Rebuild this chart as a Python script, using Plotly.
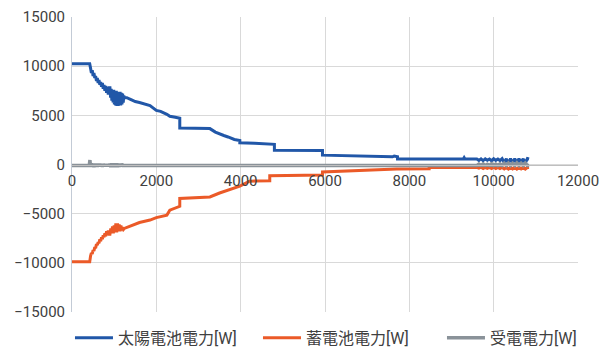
import plotly.graph_objects as go

# ---- data ----
solar_x = [0, 420,
           440, 460, 480, 500, 520, 540, 560, 580, 600, 620, 640, 660, 680, 700, 720, 740, 760, 780, 800, 820, 840, 860, 880,
           900, 915, 930, 945, 960, 975, 990, 1005, 1020, 1035, 1050, 1065, 1080, 1095, 1110, 1125, 1140, 1155, 1170,
           1185, 1200, 1215, 1230, 1245,
           1300, 1400, 1500, 1600, 1700, 1850, 2000, 2100, 2250, 2320, 2450, 2556, 2556, 3270, 3400, 3500, 3600,
           3700, 3850, 3980, 3980, 4330, 4800, 4800, 5940, 5940, 6500, 7000, 7300, 7600, 7640, 7700, 7720, 7720,
           9280, 9300, 9320,
           9600, 9650, 9700, 9750, 9800, 9850, 9900, 9950, 10000, 10050, 10100, 10150, 10200, 10250, 10300, 10350,
           10400, 10450, 10500, 10550, 10600, 10650, 10700, 10750, 10800, 10840]
solar_y = [10250, 10250,
           9800, 9300, 9600, 9000, 9300, 8800, 9000, 8500, 8800, 8300, 8600, 8100, 8400, 7900, 8300, 7700, 8100, 7500, 8000, 7300, 7900, 7100, 7800,
           7800, 6800, 7700, 6500, 7600, 6300, 7600, 6100, 7500, 6000, 7500, 5950, 7400, 5950, 7400, 6000, 7400, 6000,
           7300, 6100, 7200, 6300, 7000, 6800,
           6800, 6600, 6400, 6300, 6200, 6000, 5500, 5400, 5100, 4900, 4800, 4700, 3700, 3650, 3300, 3100, 2950,
           2800, 2550, 2450, 2200, 2150, 2050, 1450, 1420, 950, 880, 830, 780, 780, 850, 780, 780, 560,
           560, 700, 560,
           560, 420, 580, 400, 570, 430, 560, 390, 580, 420, 560, 400, 600, 200, 580, 150,
           600, 180, 590, 140, 600, 170, 580, 150, 600, 560]

battery_x = [0, 420,
             440, 460, 480, 500, 520, 540, 560, 580, 600, 620, 640, 660, 680, 700, 720, 740, 760, 780, 800, 820, 840, 860, 880,
             900, 920, 940, 960, 980, 1000, 1020, 1040, 1060, 1080, 1100, 1120, 1140, 1160, 1180, 1200, 1220, 1240,
             1300, 1400, 1500, 1600, 1700, 1850, 2000, 2100, 2250, 2320, 2556, 2556, 3270, 3500, 3700, 3850, 3980,
             4210, 4690, 4690, 5940, 5940, 6500, 7000, 7700, 8470, 8470,
             9600, 9650, 9700, 9750, 9800, 9850, 9900, 9950, 10000, 10050, 10100, 10150, 10200, 10250, 10300, 10350,
             10400, 10450, 10500, 10550, 10600, 10650, 10700, 10750, 10800, 10840]
battery_y = [-9900, -9900,
             -9300, -9000, -9100, -8700, -8800, -8400, -8500, -8100, -8200, -7900, -8000, -7600, -7800, -7400, -7600, -7200, -7400, -7000, -7300, -6800, -7200, -6700, -7100,
             -7100, -6500, -7000, -6300, -7000, -6200, -6900, -6000, -6900, -6000, -6800, -6100, -6800, -6200, -6700, -6400, -6600, -6500,
             -6400, -6200, -6100, -5900, -5800, -5650, -5400, -5300, -5150, -4650, -4250, -3450, -3300, -2900, -2600, -2400, -2200,
             -1700, -1650, -1150, -1080, -760, -650, -580, -460, -440, -300,
             -300, -380, -280, -400, -290, -390, -300, -410, -280, -400, -290, -420, -300, -450, -280, -460,
             -300, -440, -290, -470, -300, -450, -280, -460, -300, -300]

grid_x = [0, 410, 425, 440, 460, 480, 500, 520, 540, 560, 580, 600, 620, 640, 660, 680, 700, 720, 740, 760,
          780, 800, 820, 840, 860, 880, 900, 920, 940, 960, 980, 1000, 1020, 1040, 1060, 1080, 1100, 1120,
          1140, 1160, 1180, 1200, 1240,
          9600, 9650, 9700, 9750, 9800, 9850, 9900, 9950, 10000, 10050, 10100, 10150, 10200, 10250, 10300, 10350,
          10400, 10450, 10500, 10550, 10600, 10650, 10700, 10750, 10800, 10840]
grid_y = [-100, -100, 450, -250, 120, -220, 80, -250, 60, -200, 80, -220, 40, -200, 60, -200, 40, -220, 60, -200,
          40, -180, 50, -200, 40, -170, 80, -250, 100, -260, 110, -250, 80, -260, 100, -250, 80, -220,
          70, -200, 60, -100, -100,
          -100, 40, -100, 60, -100, 30, -100, 70, -100, 50, -100, 60, -100, 130, -100, 140,
          -100, 120, -100, 150, -100, 130, -100, 140, -100, -100]

names = ["太陽電池電力[W]", "蓄電池電力[W]", "受電電力[W]"]
colors = ["#2157A8", "#EB5A28", "#8A9299"]
legend_widths = [135, 131, None]

x_ticks = [0, 2000, 4000, 6000, 8000, 10000, 12000]
y_ticks = [-15000, -10000, -5000, 0, 5000, 10000, 15000]

fig = go.Figure()
for xs, ys, n, c, w, lw in [(solar_x, solar_y, names[0], colors[0], 3, legend_widths[0]),
                            (battery_x, battery_y, names[1], colors[1], 3, legend_widths[1]),
                            (grid_x, grid_y, names[2], colors[2], 3.5, legend_widths[2])]:
    fig.add_trace(go.Scatter(x=xs, y=ys, mode="lines", name=n, legendwidth=lw,
                             line=dict(color=c, width=w)))

fig.update_layout(
    width=600, height=347,
    margin=dict(l=72, r=22, t=17, b=35, autoexpand=False),
    plot_bgcolor="white", paper_bgcolor="white",
    font=dict(family="Roboto, 'Noto Sans CJK JP', sans-serif", size=15, color="#404040"),
    legend=dict(orientation="h", x=-0.004, xanchor="left", xref="paper",
                y=-0.088, yanchor="middle", yref="paper", itemwidth=38,
                font=dict(size=16, color="#404040")),
)
fig.update_xaxes(range=[0, 12000], tickvals=x_ticks, showgrid=True, gridcolor="#D9D9D9",
                 anchor="free", position=0.5, showline=True, linecolor="#BFBFBF",
                 zeroline=False, tickformat="d", ticks="", automargin=False,
                 ticklabelstandoff=2)
fig.update_yaxes(range=[-15000, 15000], tickvals=y_ticks, showgrid=True, gridcolor="#D9D9D9",
                 zeroline=False, showline=True, linecolor="#C3CBD6", tickformat="d", ticks="",
                 automargin=False, ticklabelstandoff=3)

fig.write_html("out.html", config={"displayModeBar": False},
               post_script="document.body.style.margin='0';document.body.style.padding='0';")
